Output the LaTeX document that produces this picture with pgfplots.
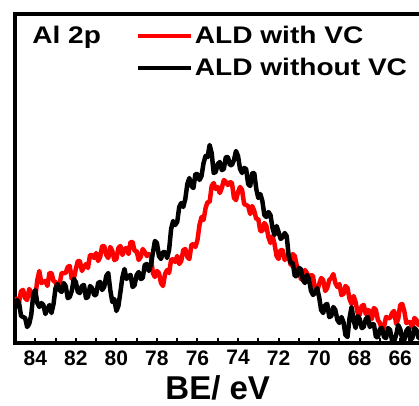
\documentclass[border=0pt]{standalone}
\usepackage{fontspec}
\setmainfont{Liberation Sans}
\usepackage{graphicx}
\usepackage{pgfplots}
\pgfplotsset{compat=1.18}
\usetikzlibrary{calc}

% Al 2p spectra, heights in arbitrary units
\pgfplotstableread{
E    I
85.0 46
84.9 38
84.8 41
84.7 52
84.6 53
84.5 45
84.4 43
84.3 54
84.2 51
84.1 44
84.0 46
83.9 63
83.8 72
83.7 60
83.6 61
83.5 62
83.4 57
83.3 70
83.2 70
83.1 62
83.0 61
82.9 54
82.8 59
82.7 70
82.6 70
82.5 70
82.4 76
82.3 77
82.2 64
82.1 64
82.0 74
81.9 82
81.8 82
81.7 72
81.6 76
81.5 79
81.4 75
81.3 88
81.2 88
81.1 85
81.0 90
80.9 82
80.8 86
80.7 97
80.6 97
80.5 88
80.4 85
80.3 96
80.2 92
80.1 83
80.0 84
79.9 95
79.8 97
79.7 88
79.6 94
79.5 95
79.4 89
79.3 101
79.2 101
79.1 92
79.0 92
78.9 83
78.8 86
78.7 94
78.6 91
78.5 87
78.4 89
78.3 87
78.2 70
78.1 66
78.0 72
77.9 70
77.8 60
77.7 57
77.6 69
77.5 73
77.4 70
77.3 83
77.2 84
77.1 81
77.0 87
76.9 79
76.8 82
76.7 93
76.6 94
76.5 86
76.4 84
76.3 98
76.2 99
76.1 96
76.0 103
75.9 118
75.8 126
75.7 123
75.6 135
75.5 141
75.4 141
75.3 157
75.2 160
75.1 154
75.0 156
74.9 150
74.8 155
74.7 163
74.6 161
74.5 158
74.4 161
74.3 160
74.2 145
74.1 143
74.0 151
73.9 156
73.8 153
73.7 139
73.6 138
73.5 137
73.4 129
73.3 137
73.2 132
73.1 124
73.0 124
72.9 112
72.8 112
72.7 120
72.6 117
72.5 106
72.4 100
72.3 107
72.2 99
72.1 87
72.0 84
71.9 93
71.8 93
71.7 83
71.6 87
71.5 86
71.4 78
71.3 89
71.2 87
71.1 77
71.0 74
70.9 64
70.8 66
70.7 73
70.6 70
70.5 66
70.4 68
70.3 67
70.2 52
70.1 51
70.0 59
69.9 65
69.8 63
69.7 52
69.6 55
69.5 63
69.4 65
69.3 69
69.2 60
69.1 56
69.0 59
68.9 48
68.8 49
68.7 57
68.6 55
68.5 44
68.4 39
68.3 47
68.2 41
68.1 30
68.0 28
67.9 37
67.8 38
67.7 29
67.6 33
67.5 32
67.4 24
67.3 35
67.2 33
67.1 23
67.0 20
66.9 12
66.8 16
66.7 26
66.6 25
66.5 25
66.4 30
66.3 32
66.2 19
66.1 24
66.0 38
65.9 39
65.8 32
65.7 20
65.6 21
65.5 21
65.4 15
65.3 25
65.2 23
65.1 18
65.0 21
}\withvc

\pgfplotstableread{
E    I
85.0 35
84.9 43
84.8 40
84.7 27
84.6 26
84.5 25
84.4 16
84.3 19
84.2 28
84.1 48
84.0 53
83.9 40
83.8 36
83.7 40
83.6 38
83.5 29
83.4 34
83.3 38
83.2 30
83.1 39
83.0 55
82.9 59
82.8 53
82.7 51
82.6 60
82.5 57
82.4 45
82.3 46
82.2 52
82.1 64
82.0 61
81.9 51
81.8 50
81.7 57
81.6 58
81.5 45
81.4 46
81.3 57
81.2 55
81.1 48
81.0 48
80.9 60
80.8 61
80.7 53
80.6 56
80.5 67
80.4 70
80.3 53
80.2 41
80.1 44
80.0 32
79.9 37
79.8 51
79.7 66
79.6 74
79.5 64
79.4 67
79.3 68
79.2 56
79.1 58
79.0 68
78.9 71
78.8 64
78.7 65
78.6 78
78.5 79
78.4 72
78.3 78
78.2 90
78.1 102
78.0 100
77.9 87
77.8 84
77.7 91
77.6 91
77.5 85
77.4 93
77.3 114
77.2 122
77.1 118
77.0 121
76.9 136
76.8 140
76.7 136
76.6 144
76.5 159
76.4 165
76.3 157
76.2 155
76.1 169
76.0 169
75.9 163
75.8 167
75.7 180
75.6 187
75.5 186
75.4 198
75.3 190
75.2 170
75.1 171
75.0 179
74.9 181
74.8 173
74.7 174
74.6 186
74.5 186
74.4 178
74.3 178
74.2 183
74.1 192
74.0 187
73.9 174
73.8 170
73.7 175
73.6 174
73.5 159
73.4 157
73.3 170
73.2 170
73.1 154
73.0 145
72.9 149
72.8 142
72.7 128
72.6 126
72.5 131
72.4 128
72.3 115
72.2 108
72.1 117
72.0 111
71.9 104
71.8 106
71.7 110
71.6 107
71.5 87
71.4 80
71.3 80
71.2 67
71.1 67
71.0 75
70.9 74
70.8 63
70.7 60
70.6 68
70.5 64
70.4 52
70.3 48
70.2 50
70.1 55
70.0 46
69.9 33
69.8 30
69.7 38
69.6 39
69.5 26
69.4 27
69.3 36
69.2 33
69.1 23
69.0 20
68.9 26
68.8 21
68.7 8
68.6 6
68.5 25
68.4 36
68.3 23
68.2 15
68.1 27
68.0 24
67.9 15
67.8 16
67.7 24
67.6 26
67.5 16
67.4 19
67.3 19
67.2 6
67.1 6
67.0 14
66.9 15
66.8 6
66.7 5
66.6 15
66.5 13
66.4 2
66.3 2
66.2 8
66.1 18
66.0 14
65.9 4
65.8 3
65.7 12
65.6 15
65.5 3
65.4 5
65.3 15
65.2 13
65.1 5
65.0 5
}\withoutvc

\begin{document}
\begin{tikzpicture}
\begin{axis}[
    name=ax,
    scale only axis,
    width=405.5pt, height=329pt,
    xmin=65, xmax=85, x dir=reverse,
    ymin=0, ymax=329,
    ytick=\empty,
    xtick={66,68,...,84},
    minor xtick={65,67,...,85},
    xtick pos=left,
    tick align=inside,
    major tick length=5pt, minor tick length=5pt,
    every tick/.style={line width=2pt, black},
    axis line style={line width=4pt},
    /pgf/number format/assume math mode=true,
    x tick label style={font=\fontsize{21}{21}\selectfont\bfseries, yshift=-4pt},
    xlabel={BE/ eV},
    xlabel style={font=\fontsize{33}{33}\selectfont\bfseries,
        at={(rel axis cs:0.5,0)}, anchor=base, yshift=-56pt},
    legend style={draw=none, fill=none, at={(rel axis cs:0.289,0.975)}, anchor=north west,
        font=\fontsize{24}{24}\selectfont\bfseries, row sep=9pt},
    legend cell align=left,
    legend image code/.code={\draw[#1] (0pt,0pt) -- (53pt,0pt);},
]
\addplot[red, line width=4.5pt, line join=round] table[x=E, y=I] {\withvc};
\addlegendentry{\scalebox{1.17}[1]{ALD with VC}}
\addplot[black, line width=4.5pt, line join=round] table[x=E, y=I] {\withoutvc};
\addlegendentry{\scalebox{1.17}[1]{ALD without VC}}
\node[anchor=base west, font=\fontsize{24}{24}\selectfont\bfseries]
    at (rel axis cs:0.034,0.909) {\scalebox{1.17}[1]{Al 2p}};
\end{axis}
\pgfresetboundingbox
\path[use as bounding box] ($(ax.south west)+(-15pt,-62pt)$) rectangle ($(ax.north west)+(404pt,14pt)$);
\end{tikzpicture}
\end{document}
